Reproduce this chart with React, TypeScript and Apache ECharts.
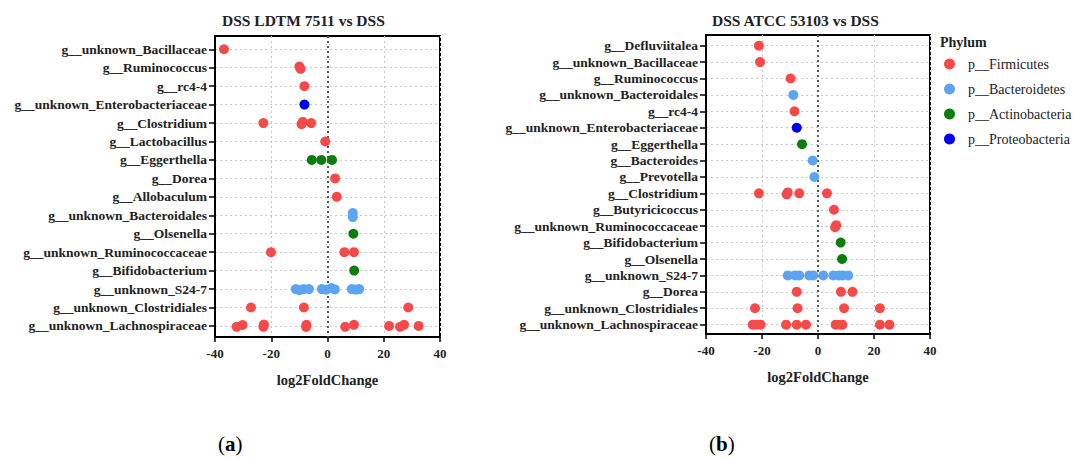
import React, { useEffect, useRef } from "react";
import * as echarts from "echarts";

const leftCategories = [
  "g__unknown_Bacillaceae",
  "g__Ruminococcus",
  "g__rc4-4",
  "g__unknown_Enterobacteriaceae",
  "g__Clostridium",
  "g__Lactobacillus",
  "g__Eggerthella",
  "g__Dorea",
  "g__Allobaculum",
  "g__unknown_Bacteroidales",
  "g__Olsenella",
  "g__unknown_Ruminococcaceae",
  "g__Bifidobacterium",
  "g__unknown_S24-7",
  "g__unknown_Clostridiales",
  "g__unknown_Lachnospiraceae",
];

const rightCategories = [
  "g__Defluviitalea",
  "g__unknown_Bacillaceae",
  "g__Ruminococcus",
  "g__unknown_Bacteroidales",
  "g__rc4-4",
  "g__unknown_Enterobacteriaceae",
  "g__Eggerthella",
  "g__Bacteroides",
  "g__Prevotella",
  "g__Clostridium",
  "g__Butyricicoccus",
  "g__unknown_Ruminococcaceae",
  "g__Bifidobacterium",
  "g__Olsenella",
  "g__unknown_S24-7",
  "g__Dorea",
  "g__unknown_Clostridiales",
  "g__unknown_Lachnospiraceae",
];

const phyla = ["p__Firmicutes", "p__Bacteroidetes", "p__Actinobacteria", "p__Proteobacteria"];
const phylumColors = ["#F64A4A", "#5CA4F2", "#0B7D0B", "#0000F2"];

// [log2FoldChange, row index]
const leftFirmicutes = [
  [-36.8, 0], [-10.0, 0.94], [-9.6, 1.06], [-8.2, 2],
  [-22.8, 4], [-9.2, 4.06], [-8.8, 3.94], [-5.8, 4], [-0.8, 5],
  [2.7, 7], [3.3, 8], [-20.1, 11], [6.0, 11], [9.4, 11],
  [-27.2, 14], [-8.4, 14], [28.7, 14],
  [-32.3, 15.05], [-30.2, 14.95], [-22.8, 15.05], [-22.6, 14.92], [-7.6, 15.06], [-7.5, 14.94],
  [6.3, 15.05], [9.4, 14.94], [21.9, 15], [25.8, 15.05], [27.2, 14.94], [32.4, 15],
];
const leftBacteroidetes = [
  [9.0, 8.88], [9.0, 9.1],
  [-11.3, 13], [-10.0, 13.06], [-8.5, 13], [-6.6, 13], [-2.0, 13], [-0.5, 13.04],
  [1.4, 12.95], [2.6, 13.02], [8.6, 13], [10.1, 13.03], [11.3, 13],
];
const leftActinobacteria = [[-5.6, 6], [-2.2, 6], [1.6, 6], [9.2, 10], [9.5, 12]];
const leftProteobacteria = [[-8.2, 3]];

const rightFirmicutes = [
  [-21.1, 0], [-20.7, 1], [-9.8, 2], [-8.4, 4],
  [-21.1, 9], [-11.2, 9.06], [-10.8, 8.94], [-6.7, 9], [3.2, 9],
  [5.7, 10], [6.1, 11.06], [6.5, 10.94], [-7.6, 15], [8.2, 15], [12.3, 15],
  [-22.5, 16], [-7.3, 16], [9.3, 16], [22.1, 16],
  [-23.3, 17], [-21.9, 17], [-20.5, 17], [-11.4, 17], [-7.6, 17], [-4.3, 17],
  [6.3, 17], [7.9, 17], [8.7, 17], [22.1, 17], [25.5, 17],
];
const rightBacteroidetes = [
  [-8.8, 3], [-1.9, 7], [-1.3, 8],
  [-10.8, 14], [-8.2, 14], [-6.7, 14], [-3.1, 14], [-1.7, 14], [1.9, 14],
  [5.5, 14], [7.5, 14], [8.8, 14], [10.8, 14],
];
const rightActinobacteria = [[-5.7, 6], [8.1, 12], [8.6, 13]];
const rightProteobacteria = [[-7.6, 5]];

const xTicks = [-40, -20, 0, 20, 40];
const panelTitles = ["DSS LDTM 7511 vs DSS", "DSS ATCC 53103 vs DSS"];
const xAxisName = "log2FoldChange";
const legendTitle = "Phylum";

const FONT = "'Liberation Serif', 'Times New Roman', serif";

function range(n: number) {
  return Array.from({ length: n }, (_, i) => i);
}

export default function App() {
  const ref = useRef<HTMLDivElement>(null);

  useEffect(() => {
    document.body.style.margin = "0";
    if (!ref.current) return;
    const chart = echarts.init(ref.current, null, { renderer: "svg" });

    const grids = [
      { left: 215, top: 36, width: 225, height: 301 },
      { left: 706, top: 35, width: 224, height: 299 },
    ];
    const cats = [leftCategories, rightCategories];
    const yMins = [-0.72, -0.65];
    const yMaxs = [leftCategories.length - 1 + 0.6, rightCategories.length - 1 + 0.57];

    const panelData = [
      [leftFirmicutes, leftBacteroidetes, leftActinobacteria, leftProteobacteria],
      [rightFirmicutes, rightBacteroidetes, rightActinobacteria, rightProteobacteria],
    ];

    const series: any[] = [];
    panelData.forEach((sets, p) => {
      sets.forEach((d, k) => {
        series.push({
          type: "scatter",
          name: phyla[k],
          xAxisIndex: p,
          yAxisIndex: p,
          data: d,
          symbolSize: 10,
          itemStyle: { color: phylumColors[k], opacity: 1 },
          z: 5,
          markLine:
            k === 0
              ? {
                  silent: true,
                  symbol: "none",
                  label: { show: false },
                  lineStyle: { color: "#555", type: [2, 3], width: 2 },
                  data: [{ xAxis: 0 }],
                  z: 3,
                }
              : undefined,
        });
      });
    });

    const option: any = {
      animation: false,
      backgroundColor: "#fff",
      textStyle: { fontFamily: FONT },
      grid: grids.map((g) => ({
        ...g,
        show: true,
        borderColor: "#000",
        borderWidth: 2,
        containLabel: false,
      })),
      xAxis: grids.map((_, p) => ({
        type: "value",
        gridIndex: p,
        min: -40,
        max: 40,
        interval: 20,
        name: xAxisName,
        nameLocation: "middle",
        nameGap: 35,
        nameTextStyle: { fontFamily: FONT, fontWeight: "bold", fontSize: 14.5, color: "#222" },
        axisLine: { show: true, onZero: false, lineStyle: { color: "#000", width: 2 } },
        axisTick: { show: true, length: 5, lineStyle: { color: "#000", width: 1.5 } },
        axisLabel: {
          fontFamily: FONT,
          fontWeight: "bold",
          fontSize: 13,
          color: "#222",
          margin: 10,
          customValues: xTicks,
        },
        splitLine: { show: true, lineStyle: { color: "#c8c8c8", type: [2, 3], width: 1 } },
      })),
      yAxis: grids.map((_, p) => ({
        type: "value",
        gridIndex: p,
        inverse: true,
        min: yMins[p],
        max: yMaxs[p],
        axisLine: { show: true, onZero: false, lineStyle: { color: "#000", width: 2 } },
        axisTick: {
          show: true,
          length: 6,
          customValues: range(cats[p].length),
          lineStyle: { color: "#000", width: 1.5 },
        },
        axisLabel: {
          customValues: range(cats[p].length),
          formatter: (v: number) => cats[p][Math.round(v)] ?? "",
          fontFamily: FONT,
          fontWeight: "bold",
          fontSize: 13.5,
          color: "#222",
          margin: 8,
        },
        splitLine: { show: true, lineStyle: { color: "#c8c8c8", type: [2, 3], width: 1 } },
      })),
      legend: {
        orient: "vertical",
        left: 939,
        top: 52,
        data: phyla,
        icon: "circle",
        itemWidth: 11,
        itemHeight: 11,
        itemGap: 11,
        textStyle: { fontFamily: FONT, fontSize: 14, color: "#222", padding: [0, 0, 0, 8] },
      },
      graphic: [
        {
          type: "text",
          left: 222,
          top: 12,
          style: { text: panelTitles[0], font: `bold 15.5px ${FONT}`, fill: "#222" },
        },
        {
          type: "text",
          left: 712,
          top: 12,
          style: { text: panelTitles[1], font: `bold 15.5px ${FONT}`, fill: "#222" },
        },
        {
          type: "text",
          left: 940,
          top: 35,
          style: { text: legendTitle, font: `bold 14px ${FONT}`, fill: "#222" },
        },
        {
          type: "text",
          left: 218,
          top: 433,
          style: {
            text: "({b|a})",
            font: `21px ${FONT}`,
            fill: "#000",
            rich: { b: { fontWeight: "bold", fontSize: 21, fontFamily: FONT } },
          },
        },
        {
          type: "text",
          left: 709,
          top: 433,
          style: {
            text: "({b|b})",
            font: `21px ${FONT}`,
            fill: "#000",
            rich: { b: { fontWeight: "bold", fontSize: 21, fontFamily: FONT } },
          },
        },
      ],
      series,
    };

    chart.setOption(option);
    return () => chart.dispose();
  }, []);

  return <div ref={ref} style={{ width: 1078, height: 459 }} />;
}
